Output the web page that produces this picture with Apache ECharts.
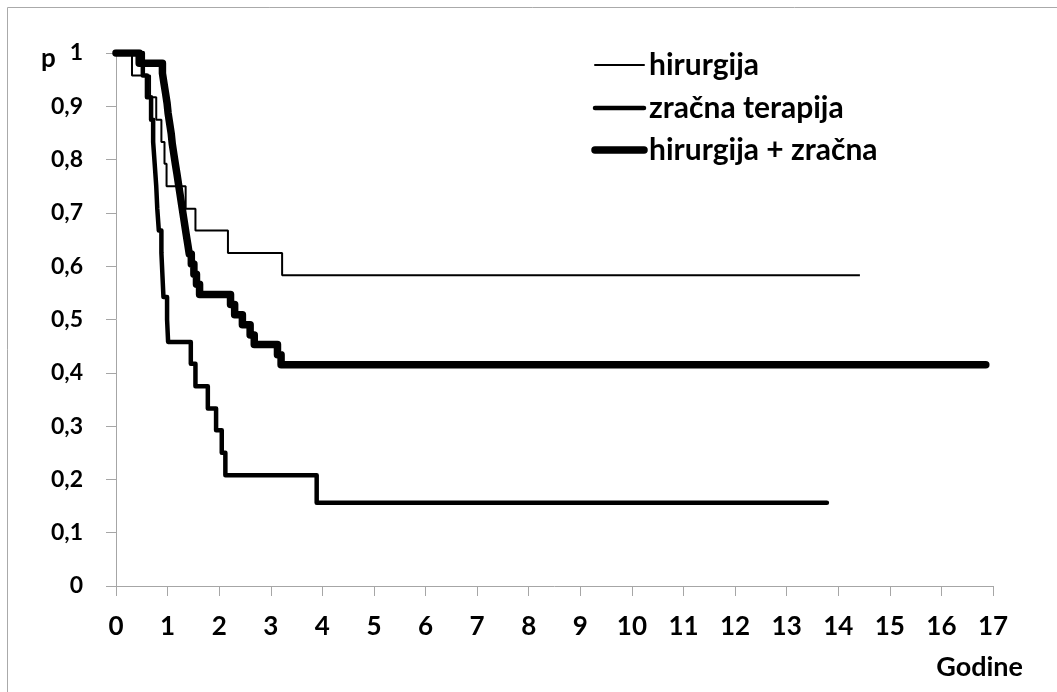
<!DOCTYPE html>
<html>
<head>
<meta charset="utf-8">
<script src="https://cdn.jsdelivr.net/npm/echarts@6/dist/echarts.min.js"></script>
<style>
  html, body { margin: 0; padding: 0; background: #ffffff; }
  #chart { width: 1057px; height: 692px; }
</style>
</head>
<body>
<div id="chart"></div>
<script>
// ---- data (years, survival probability) ----
const seriesNames = ['hirurgija', 'zračna terapija', 'hirurgija + zračna'];

const hirurgijaT = [0, 0.31, 0.66, 0.78, 0.88, 0.94, 0.98, 1.35, 1.54, 2.17, 3.22, 14.42];
const hirurgijaP = [1, 0.958, 0.917, 0.875, 0.833, 0.792, 0.75, 0.708, 0.667, 0.625, 0.583, 0.583];

const zracnaT = [0, 0.52, 0.6, 0.68, 0.72, 0.75, 0.78, 0.8, 0.83, 0.88, 0.9, 0.92, 0.99, 1.01, 1.45, 1.54, 1.78, 1.94, 2.05, 2.12, 3.89, 13.78];
const zracnaP = [1, 0.958, 0.917, 0.875, 0.833, 0.792, 0.75, 0.708, 0.667, 0.625, 0.583, 0.542, 0.5, 0.458, 0.417, 0.375, 0.333, 0.292, 0.25, 0.208, 0.156, 0.156];

const kombT = [0, 0.45, 0.9, 0.93, 0.96, 0.99, 1.01, 1.04, 1.07, 1.09, 1.12, 1.15, 1.18, 1.21, 1.24, 1.27, 1.3, 1.33, 1.36, 1.39, 1.42, 1.46, 1.51, 1.56, 1.62, 2.22, 2.3, 2.45, 2.6, 2.68, 3.13, 3.2, 16.86];
const kombP = [1, 0.981, 0.962, 0.943, 0.925, 0.906, 0.887, 0.868, 0.849, 0.83, 0.811, 0.792, 0.774, 0.755, 0.736, 0.717, 0.698, 0.679, 0.66, 0.642, 0.623, 0.604, 0.585, 0.566, 0.547, 0.528, 0.509, 0.49, 0.471, 0.453, 0.434, 0.415, 0.415];

const xAxisTitle = 'Godine';
const yAxisTitle = 'p';

function pairs(t, p) { return t.map((v, i) => [v, p[i]]); }

const FONT = 'Lato';
const chart = echarts.init(document.getElementById('chart'), null, { renderer: 'canvas' });

const axisGray = '#A6A6A6';
const widths = [2, 4.5, 7.5];

// legend drawn as graphic lines + text
const legendRowsY = [65, 108, 150];
const legendGraphics = [];
seriesNames.forEach((name, i) => {
  legendGraphics.push({
    type: 'line', shape: { x1: 595, y1: legendRowsY[i], x2: 644, y2: legendRowsY[i] },
    style: { stroke: '#000', lineWidth: widths[i], lineCap: 'round' }
  });
  legendGraphics.push({
    type: 'text', x: 649, y: legendRowsY[i],
    style: { text: name, font: 'bold 30px Lato', fill: '#000', textVerticalAlign: 'middle', verticalAlign: 'middle' }
  });
});

chart.setOption({
  animation: false,
  backgroundColor: '#ffffff',
  grid: { left: 116, right: 64, top: 53, bottom: 106, containLabel: false },
  xAxis: {
    type: 'value',
    min: 0, max: 17, interval: 1,
    axisLine: { show: true, lineStyle: { color: axisGray, width: 1 } },
    axisTick: { show: true, length: 10, lineStyle: { color: axisGray } },
    axisLabel: { margin: 28, fontFamily: FONT, fontSize: 26, fontWeight: 'bold', color: '#000' },
    splitLine: { show: false }
  },
  yAxis: {
    type: 'value',
    min: 0, max: 1, interval: 0.1,
    axisLine: { show: true, lineStyle: { color: axisGray, width: 1 } },
    axisTick: { show: true, length: 10, lineStyle: { color: axisGray } },
    axisLabel: {
      margin: 33, fontFamily: FONT, fontSize: 23, fontWeight: 'bold', color: '#000',
      formatter: v => (Math.abs(v) < 1e-9 ? '0' : Math.abs(v - 1) < 1e-9 ? '1' : v.toFixed(1).replace('.', ','))
    },
    splitLine: { show: false }
  },
  graphic: [
    { type: 'line', shape: { x1: 7.5, y1: 7.5, x2: 1057, y2: 7.5 }, style: { stroke: '#AAAAAA', lineWidth: 1 } },
    { type: 'line', shape: { x1: 7.5, y1: 7.5, x2: 7.5, y2: 692 }, style: { stroke: '#AAAAAA', lineWidth: 1 } },
    { type: 'text', x: 41, y: 59, style: { text: yAxisTitle, font: 'bold 26px Lato', fill: '#000', textVerticalAlign: 'middle', verticalAlign: 'middle' } },
    { type: 'text', x: 1023, y: 667, style: { text: xAxisTitle, font: 'bold 27px Lato', fill: '#000', textAlign: 'right', align: 'right', textVerticalAlign: 'middle', verticalAlign: 'middle' } }
  ].concat(legendGraphics),
  series: [
    {
      name: seriesNames[0], type: 'line', step: 'end', symbol: 'none',
      data: pairs(hirurgijaT, hirurgijaP),
      lineStyle: { color: '#000', width: widths[0] }, itemStyle: { color: '#000' }
    },
    {
      name: seriesNames[1], type: 'line', step: 'end', symbol: 'none',
      data: pairs(zracnaT, zracnaP),
      lineStyle: { color: '#000', width: widths[1], cap: 'round', join: 'round' }, itemStyle: { color: '#000' }
    },
    {
      name: seriesNames[2], type: 'line', step: 'end', symbol: 'none',
      data: pairs(kombT, kombP),
      lineStyle: { color: '#000', width: widths[2], cap: 'round', join: 'round' }, itemStyle: { color: '#000' }
    }
  ]
});
</script>
</body>
</html>
